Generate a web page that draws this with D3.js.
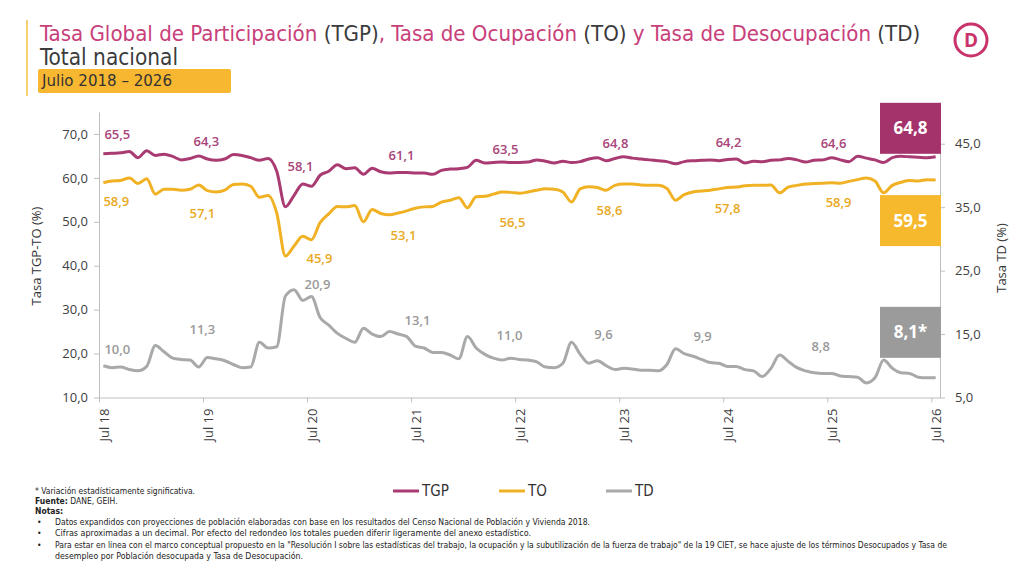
<!DOCTYPE html>
<html>
<head>
<meta charset="utf-8">
<script src="https://cdn.jsdelivr.net/npm/d3@7/dist/d3.min.js"></script>
<style>
  body { margin: 0; background: #fff; }
  svg { display: block; }
  .narrow { font-family: "Liberation Sans Narrow", "DejaVu Sans Condensed", "Open Sans", sans-serif; }
  .sans { font-family: "Open Sans", "Noto Sans", sans-serif; }
</style>
</head>
<body>
<div id="chart"></div>
<script>
// months Jul 2018 .. Jul 2026
var months = d3.timeMonth.range(new Date(2018, 6, 1), new Date(2026, 7, 1));
var tickLabels = ['Jul 18', 'Jul 19', 'Jul 20', 'Jul 21', 'Jul 22', 'Jul 23', 'Jul 24', 'Jul 25', 'Jul 26'];

// Tasa Global de Participacion (%)
var tgp = [65.5, 65.6, 65.7, 66.0, 64.6, 66.2, 65.1, 65.4, 64.9, 64.1, 64.4, 65.0,
           64.3, 64.0, 64.3, 65.3, 65.1, 64.6, 64.0, 64.4, 61.5, 53.4, 56.0, 58.6,
           58.1, 60.6, 61.5, 63.0, 62.1, 62.3, 60.8, 62.2, 61.4, 61.1, 61.2, 61.2,
           61.1, 61.1, 60.8, 61.7, 62.0, 62.1, 62.4, 64.0, 63.4, 63.5, 63.6, 63.5,
           63.5, 63.6, 64.1, 63.8, 63.4, 63.8, 63.5, 63.7, 64.3, 64.6, 63.9, 64.4,
           64.8, 64.5, 64.3, 64.1, 63.9, 63.7, 63.2, 63.7, 63.9, 64.0, 64.1, 63.9,
           64.2, 64.3, 63.4, 63.8, 63.7, 64.0, 64.1, 64.4, 64.1, 63.6, 64.0, 64.1,
           64.6, 64.1, 63.7, 64.9, 64.5, 64.1, 63.5, 64.6, 64.9, 64.8, 64.7, 64.6,
           64.8];
// Tasa de Ocupacion (%)
var to = [58.9, 59.3, 59.4, 60.0, 58.7, 59.8, 56.3, 57.4, 57.4, 57.2, 57.4, 58.4,
          57.1, 56.8, 57.2, 58.5, 58.6, 58.1, 55.6, 56.0, 52.0, 42.2, 44.5, 46.7,
          45.9, 49.8, 51.8, 53.5, 53.4, 53.7, 50.0, 52.8, 51.9, 51.6, 52.0, 52.5,
          53.1, 53.4, 53.5, 54.5, 54.9, 55.5, 53.2, 55.7, 55.8, 56.3, 56.8, 56.7,
          56.5, 56.8, 57.2, 57.5, 57.4, 56.8, 54.5, 57.5, 58.0, 57.8, 57.2, 58.3,
          58.6, 58.6, 58.4, 58.3, 58.3, 57.6, 54.9, 56.2, 56.8, 57.0, 57.2, 57.5,
          57.8, 57.9, 58.2, 58.3, 58.3, 58.4, 56.6, 57.9, 58.3, 58.6, 58.7, 58.8,
          58.9, 58.8, 59.2, 59.6, 60.0, 59.3, 56.6, 58.3, 59.0, 59.4, 59.3, 59.6,
          59.5];
// Tasa de Desocupacion (%)
var td = [10.0, 9.7, 9.8, 9.4, 9.2, 9.9, 13.2, 12.2, 11.2, 11.0, 10.9, 9.8,
          11.3, 11.1, 10.8, 10.2, 9.7, 9.8, 13.7, 12.8, 13.0, 21.0, 22.0, 20.3,
          20.9, 17.6, 16.4, 15.1, 14.3, 13.7, 15.9, 15.0, 14.6, 15.4, 15.0, 14.6,
          13.1, 12.8, 12.1, 12.1, 11.7, 11.1, 14.6, 12.8, 11.8, 11.2, 10.9, 11.2,
          11.0, 10.9, 10.6, 9.8, 9.7, 10.4, 13.7, 11.8, 10.4, 10.8, 10.0, 9.4,
          9.6, 9.5, 9.3, 9.3, 9.2, 10.2, 12.7, 11.9, 11.5, 11.0, 10.5, 10.4,
          9.9, 9.9, 9.4, 9.2, 8.3, 9.6, 11.7, 10.7, 9.7, 9.2, 8.9, 8.8,
          8.8, 8.4, 8.3, 8.2, 7.3, 8.1, 10.9, 9.6, 8.9, 8.8, 8.2, 8.1,
          8.1];

var leftTicks = [10, 20, 30, 40, 50, 60, 70];
var rightTicks = [5, 15, 25, 35, 45];

var notes = [
   'Datos expandidos con proyecciones de población elaboradas con base en los resultados del Censo Nacional de Población y Vivienda 2018.',
   'Cifras aproximadas a un decimal. Por efecto del redondeo los totales pueden diferir ligeramente del anexo estadístico.',
   'Para estar en línea con el marco conceptual propuesto en la "Resolución I sobre las estadísticas del trabajo, la ocupación y la subutilización de la fuerza de trabajo" de la 19 CIET, se hace ajuste de los términos Desocupados y Tasa de',
   'desempleo por Población desocupada y Tasa de Desocupación.'
];

var colTGP = '#A93B72', colTO = '#F0B224', colTD = '#A7AAA8';
var pink = '#C8407A', dark = '#3B3B3B';

var width = 1024, height = 576;
var pLeft = 99, pRight = 940, pTop = 112, pBottom = 397.5;

// hand-placed nudges of the yearly value labels (px), like in the original slide
var nudgeTGP = {dx: [14, -1, -11, -14, -14, -8, 1, 2], dy: [-19, -18, -20, -18, -13, -13, -17, -14]};
var nudgeTO = {dx: [13, -5, 8, -12, -7, -14, 0, 7], dy: [19, 23, 19, 27, 29, 26, 21, 20]};
var nudgeTD = {dx: [14, -5, 6, 2, -10, -20, -25, -11], dy: [-16, -28, -12, -26, -24, -34, -30, -27]};

var es = d3.formatLocale({decimal: ',', thousands: '.', grouping: [3], currency: ['$', '']});
var fmt = es.format('.1f');

var svg = d3.select('#chart').append('svg')
   .attr('width', width)
   .attr('height', height)
   .style('background', '#fff');

var xi = d3.scaleLinear().domain([0, months.length]).range([pLeft, pRight]);
var yL = d3.scaleLinear().domain([10, 75]).range([pBottom, pTop]);
var yR = d3.scaleLinear().domain([5, 50]).range([pBottom, pTop]);
function px(i) { return xi(i + 0.5); }

// header
svg.append('line')
   .attr('x1', 27).attr('x2', 27).attr('y1', 20).attr('y2', 96)
   .attr('stroke', '#F5C242').attr('stroke-width', 1.5);

var t1 = svg.append('text').attr('class', 'narrow')
   .attr('x', 40).attr('y', 41)
   .attr('font-size', 23);
[['Tasa Global de Participación ', pink], ['(TGP)', dark], [', Tasa de Ocupación ', pink],
 ['(TO)', dark], [' y Tasa de Desocupación ', pink], ['(TD)', dark]].forEach(function (p) {
   t1.append('tspan').attr('fill', p[1]).text(p[0]);
});
// fit the title to the width it has on the slide
var tLen = t1.node().getComputedTextLength();
if (tLen > 0) t1.attr('font-size', 23 * 881 / tLen);

svg.append('text').attr('class', 'narrow')
   .attr('x', 40).attr('y', 65)
   .attr('font-size', 23).attr('fill', dark)
   .attr('textLength', 138).attr('lengthAdjust', 'spacingAndGlyphs')
   .text('Total nacional');
svg.append('rect')
   .attr('x', 38).attr('y', 69).attr('width', 193).attr('height', 24)
   .attr('rx', 2).attr('fill', '#F7B731');
svg.append('text').attr('class', 'narrow')
   .attr('x', 42).attr('y', 86)
   .attr('font-size', 15).attr('fill', '#333')
   .attr('textLength', 130).attr('lengthAdjust', 'spacingAndGlyphs')
   .text('Julio 2018 – 2026');

// logo
svg.append('circle')
   .attr('cx', 971).attr('cy', 40).attr('r', 16)
   .attr('fill', 'none').attr('stroke', '#C8336B').attr('stroke-width', 3);
svg.append('text').attr('class', 'sans')
   .attr('x', 971).attr('y', 47)
   .attr('text-anchor', 'middle')
   .attr('font-size', 19).attr('font-weight', 700).attr('fill', '#C8336B')
   .text('D');

// axes
function styleAxis(g) {
   g.selectAll('.domain').attr('stroke', '#BFBFBF');
   g.selectAll('.tick line').attr('stroke', '#BFBFBF');
   g.selectAll('.tick text').attr('fill', '#404040')
      .attr('font-family', '"Open Sans", sans-serif').attr('font-size', 13);
}

svg.append('g')
   .attr('transform', 'translate(' + pLeft + ',0)')
   .call(d3.axisLeft(yL).tickValues(leftTicks).tickSize(5).tickSizeOuter(0).tickPadding(6).tickFormat(fmt))
   .call(styleAxis);

svg.append('g')
   .attr('transform', 'translate(' + pRight + ',0)')
   .call(d3.axisRight(yR).tickValues(rightTicks).tickSize(5).tickSizeOuter(0).tickPadding(10).tickFormat(fmt))
   .call(styleAxis);

var xAxis = svg.append('g')
   .attr('transform', 'translate(0,' + pBottom + ')')
   .call(d3.axisBottom(xi)
      .tickValues(tickLabels.map(function (d, k) { return k * 12; }))
      .tickSize(5).tickSizeOuter(0)
      .tickFormat(function (d) { return tickLabels[d / 12]; }))
   .call(styleAxis);
xAxis.selectAll('.tick text')
   .attr('text-anchor', 'end')
   .attr('transform', 'translate(5,11) rotate(-90)')
   .attr('x', 0).attr('y', 0).attr('dy', '0.35em');

svg.append('text').attr('class', 'sans')
   .attr('transform', 'translate(41,256) rotate(-90)')
   .attr('text-anchor', 'middle').attr('font-size', 13).attr('fill', '#333')
   .text('Tasa TGP-TO (%)');
svg.append('text').attr('class', 'sans')
   .attr('transform', 'translate(1006,258) rotate(-90)')
   .attr('text-anchor', 'middle').attr('font-size', 13).attr('fill', '#333')
   .text('Tasa TD (%)');

// lines
var series = [
   {key: 'TGP', values: tgp, y: yL, color: colTGP, lab: '#A8457A', nudge: nudgeTGP},
   {key: 'TO', values: to, y: yL, color: colTO, lab: '#E8A91E', nudge: nudgeTO},
   {key: 'TD', values: td, y: yR, color: colTD, lab: '#9A9A9A', nudge: nudgeTD}
];

series.forEach(function (s) {
   var line = d3.line()
      .x(function (d, i) { return px(i); })
      .y(function (d) { return s.y(d); })
      .curve(d3.curveMonotoneX);
   svg.append('path')
      .datum(s.values)
      .attr('d', line)
      .attr('fill', 'none')
      .attr('stroke', s.color)
      .attr('stroke-width', 3)
      .attr('stroke-linejoin', 'round');

   // yearly labels (July), the last one goes into the box
   var idx = d3.range(0, s.values.length - 1, 12);
   svg.selectAll('.lab-' + s.key).data(idx)
      .enter().append('text')
      .attr('class', 'sans')
      .attr('x', function (i, k) { return px(i) + s.nudge.dx[k]; })
      .attr('y', function (i, k) { return s.y(s.values[i]) + s.nudge.dy[k]; })
      .attr('dy', '0.35em')
      .attr('text-anchor', 'middle')
      .attr('font-size', 13).attr('font-weight', 600)
      .attr('fill', s.lab)
      .text(function (i) { return fmt(s.values[i]); });
});

// end-value boxes
var last = tgp.length - 1, bw = 61, bh = 51, bx = pRight + 1 - bw;
var boxes = [
   {y: yL(tgp[last]) - 3 - bh, fill: '#A5336B', text: fmt(tgp[last])},
   {y: yL(to[last]) + 15, fill: '#F6B92E', text: fmt(to[last])},
   {y: yR(td[last]) - 20 - bh, fill: '#9B9B9B', text: fmt(td[last]) + '*'}
];
boxes.forEach(function (b) {
   svg.append('rect')
      .attr('x', bx).attr('y', b.y).attr('width', bw).attr('height', bh)
      .attr('fill', b.fill);
   svg.append('text').attr('class', 'sans')
      .attr('x', bx + bw / 2).attr('y', b.y + bh / 2)
      .attr('dy', '0.35em').attr('text-anchor', 'middle')
      .attr('font-size', 17).attr('font-weight', 700).attr('fill', '#fff')
      .text(b.text);
});

// legend
var legend = [
   {name: 'TGP', color: colTGP, x: 393},
   {name: 'TO', color: colTO, x: 499},
   {name: 'TD', color: colTD, x: 606}
];
legend.forEach(function (l) {
   svg.append('line')
      .attr('x1', l.x).attr('x2', l.x + 26).attr('y1', 491).attr('y2', 491)
      .attr('stroke', l.color).attr('stroke-width', 3);
   svg.append('text').attr('class', 'narrow')
      .attr('x', l.x + 29).attr('y', 491).attr('dy', '0.35em')
      .attr('font-size', 15).attr('fill', '#333')
      .text(l.name);
});

// footnotes
var foot = svg.append('g').attr('class', 'narrow').attr('font-size', 8.5).attr('fill', '#222');
foot.append('text').attr('x', 35).attr('y', 494)
   .attr('textLength', 160).attr('lengthAdjust', 'spacingAndGlyphs')
   .text('* Variación estadísticamente significativa.');
var f2 = foot.append('text').attr('x', 35).attr('y', 504);
f2.append('tspan').attr('font-weight', 700).text('Fuente:');
f2.append('tspan').text(' DANE, GEIH.');
foot.append('text').attr('x', 35).attr('y', 514).attr('font-weight', 700).text('Notas:');

var noteY = [525, 536, 548, 559];
var noteW = [535, 476, 892, 248];
notes.forEach(function (n, k) {
   if (k < 3) {
      foot.append('text').attr('x', 37).attr('y', noteY[k]).text('•');
   }
   foot.append('text').attr('x', 55).attr('y', noteY[k])
      .attr('textLength', noteW[k]).attr('lengthAdjust', 'spacingAndGlyphs')
      .text(n);
});
</script>
</body>
</html>
